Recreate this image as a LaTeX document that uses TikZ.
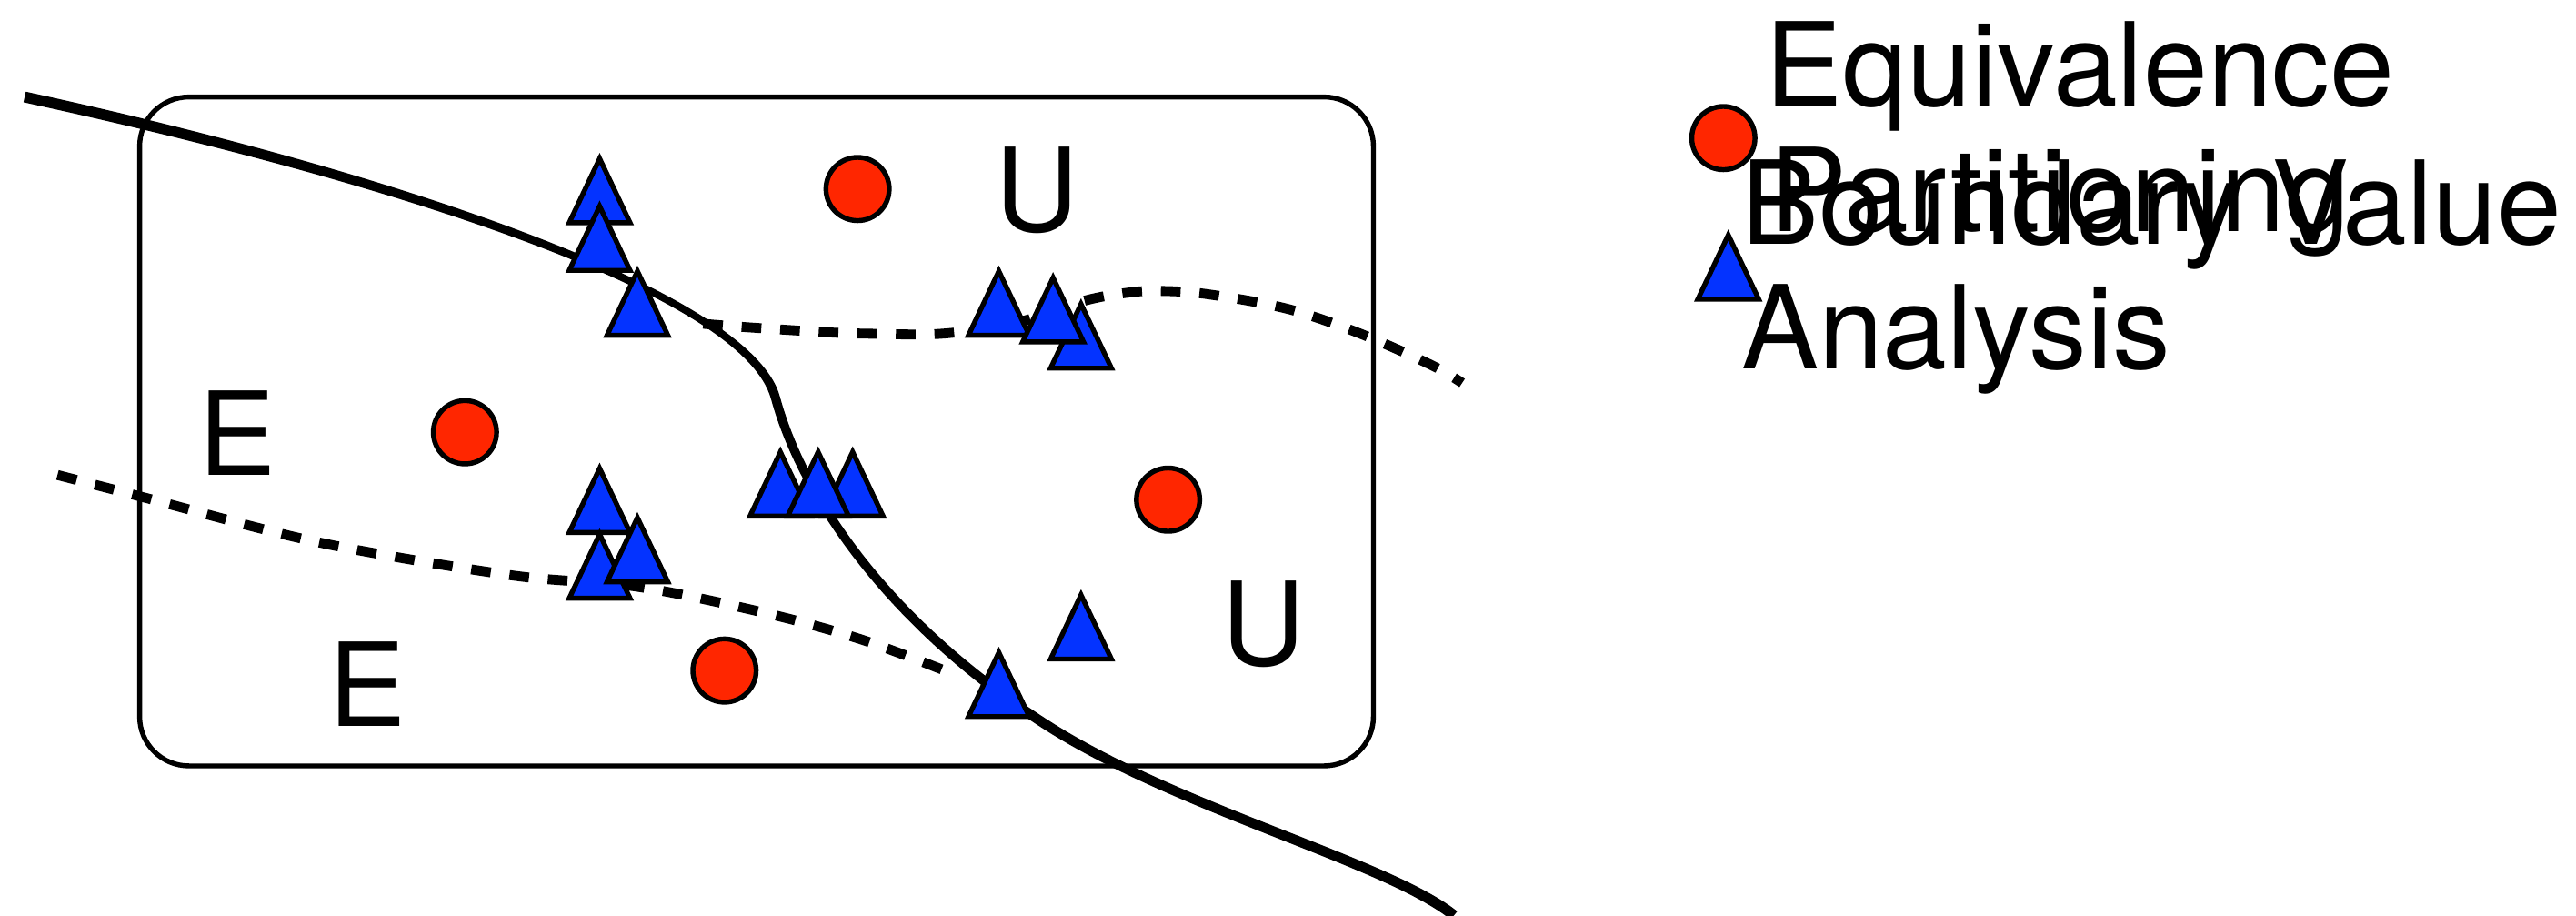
\documentclass[tikz,border=0pt]{standalone}
\usepackage{fontspec}
\setmainfont{TeX Gyre Heros}
\definecolor{dotred}{HTML}{FF2600}
\definecolor{triblue}{HTML}{0433FF}
\tikzset{
  every node/.style={inner sep=0pt, outer sep=0pt},
  lbl/.style={font=\fontsize{70.5}{77}\selectfont},
  dot/.style={circle, draw, line width=3pt, fill=dotred, minimum size=38.5pt},
  frame/.style={draw, line width=3pt, rounded corners=30pt},
  stroke/.style={fill=black},
  split/.style={line width=6pt, dash pattern=on 12pt off 11.5pt},
  tri/.pic={\draw[line width=3pt, fill=triblue] (-18.5,0) -- (0,-39) -- (18.5,0) -- cycle;}
}
\begin{document}
\begin{tikzpicture}[x=1pt, y=-1pt]
  \useasboundingbox (0,0) rectangle (1568,557);

  % the input domain
  \draw[frame] (85,59) rectangle (836,466);

  % solid partition boundary, a brush stroke slightly thinner in the bend
  \path[stroke]
    (15.70,55.78) .. controls (250.70,106.78) and (457.70,179.26) .. (474.70,241.26)
                  .. controls (490.70,300.26) and (541.60,377.46) .. (641.60,440.46)
                  .. controls (721.60,490.46) and (847.00,522.50) .. (887.00,554.50)
    -- (883.00,559.50)
                  .. controls (843.00,527.50) and (718.40,495.54) .. (638.40,445.54)
                  .. controls (538.40,382.54) and (485.30,301.74) .. (469.30,242.74)
                  .. controls (452.30,180.74) and (249.30,113.22) .. (14.30,62.22)
    -- cycle;

  % dashed partition boundaries
  \draw[split] plot[smooth, tension=0.55] coordinates {
    (428,197) (453,199) (500,202) (527,203) (574,203) (620,196)
    (660,183) (687,178) (706,177) (735,179) (784,188) (828,203)
    (871,222) (890,233)};
  \draw[split] plot[smooth, tension=0.55] coordinates {
    (35,289) (89,303) (194,330) (311,350) (388,357) (466,373)
    (524,389) (575,408)};

  % equivalence class representatives
  \node[dot] (c1) at (522,115) {};
  \node[dot] (c2) at (283,263) {};
  \node[dot] (c3) at (711,304) {};
  \node[dot] (c4) at (441,408) {};

  % boundary values
  \pic (t1) at (365,135.5) {tri};
  \pic (t2) at (365,164.5) {tri};
  \pic (t3) at (388,204) {tri};
  \pic (t4) at (475,314) {tri};
  \pic (t5) at (519,314) {tri};
  \pic (t6) at (498,314) {tri};
  \pic (t7) at (608,204) {tri};
  \pic (t8) at (658,224) {tri};
  \pic (t9) at (641,208) {tri};
  \pic (t10) at (365,324) {tri};
  \pic (t11) at (365,364) {tri};
  \pic (t12) at (388,354) {tri};
  \pic (t13) at (608,436) {tri};
  \pic (t14) at (658,401) {tri};

  % region labels
  \node[lbl, anchor=base] (u1) at (631,141) {U};
  \node[lbl, anchor=base] (u2) at (769,405) {U};
  \node[lbl, anchor=base west] (e1) at (121,289) {E};
  \node[lbl, anchor=base west] (e2) at (200,442) {E};

  % legend
  \node[dot] (kc) at (1049,84) {};
  \pic (kt) at (1052,182) {tri};
  \node[lbl, anchor=base west] (k1) at (1074.5,64.6) {Equivalence};
  \node[lbl, anchor=base west] (k2) at (1077.5,141) {Partitioning};
  \node[lbl, anchor=base west] (k3) at (1060,148.5) {Boundary Value};
  \node[lbl, anchor=base west] (k4) at (1060,224.7) {Analysis};
\end{tikzpicture}
\end{document}
